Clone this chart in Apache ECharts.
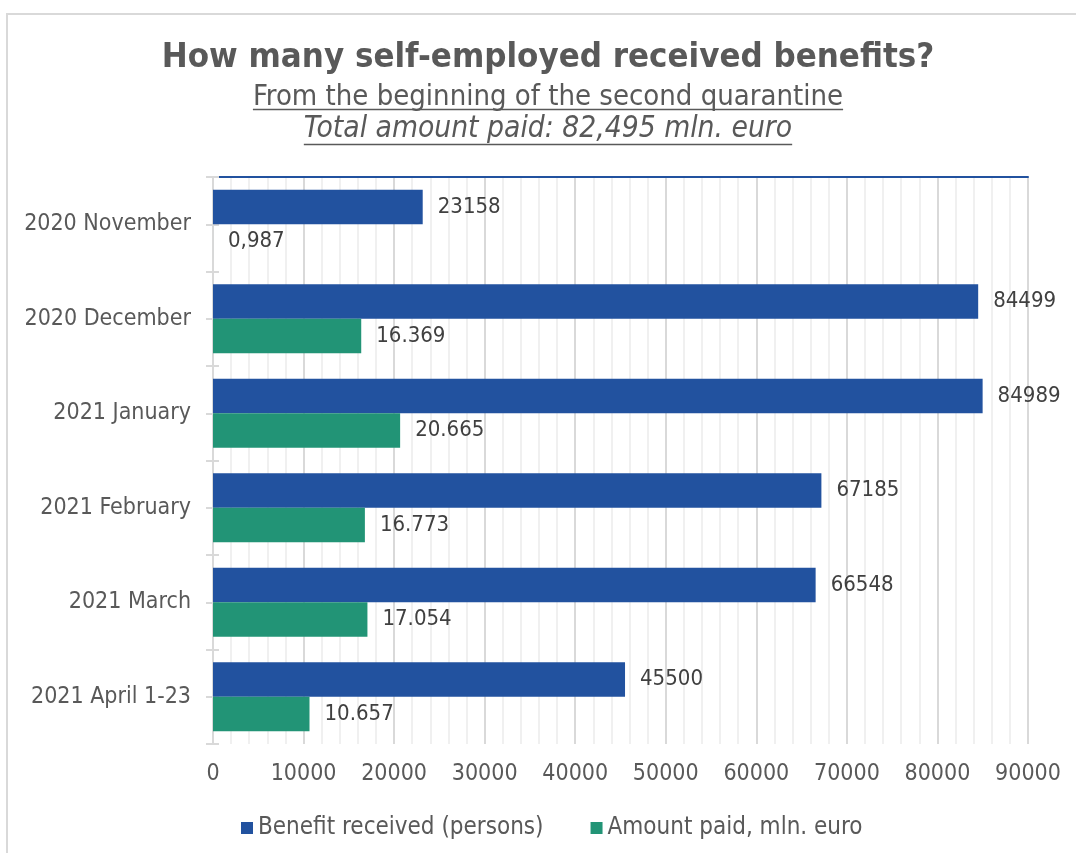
<!DOCTYPE html>
<html>
<head>
<meta charset="utf-8">
<script src="https://cdn.jsdelivr.net/npm/echarts@6/dist/echarts.min.js"></script>
<style>
  html, body { margin: 0; padding: 0; background: #fff; overflow: hidden; }
  #frame { position: absolute; left: 6px; top: 13px; width: 1200px; height: 1000px; border: 2px solid #d9d9d9; box-sizing: border-box; }
  #chart { position: absolute; left: 0; top: 0; width: 1076px; height: 853px; }
</style>
</head>
<body>
<div id="frame"></div>
<div id="chart"></div>
<script>
// ---- data ----
const categories = ['2020 November', '2020 December', '2021 January', '2021 February', '2021 March', '2021 April 1-23'];
const benefitReceived = [23158, 84499, 84989, 67185, 66548, 45500];
const amountPaid = [0.987, 16369, 20665, 16773, 17054, 10657];
const seriesNames = ['Benefit received (persons)', 'Amount paid, mln. euro'];
const titleText = 'How many self-employed received benefits?';
const subText1 = 'From the beginning of the second quarantine';
const subText2 = 'Total amount paid: 82,495 mln. euro';

const FONT = '"DejaVu Sans Condensed", "DejaVu Sans", sans-serif';
const BLUE = '#22529f';
const GREEN = '#229476';
const GREY = '#595959';
const CX = 548;

function fmtEU(v) {
  if (v < 1) return String(v).replace('.', ',');
  return String(Math.round(v)).replace(/\B(?=(\d{3})+(?!\d))/g, '.');
}

function measure(text, font) {
  const c = document.createElement('canvas').getContext('2d');
  c.font = font;
  return c.measureText(text).width;
}
const SUB1 = 29, SUB2 = 29.7;
const w1 = measure(subText1, SUB1 + 'px ' + FONT);
const w2 = measure(subText2, 'italic ' + SUB2 + 'px ' + FONT);

const chart = echarts.init(document.getElementById('chart'), null, { renderer: 'canvas' });
const gridPos = { left: 213, right: 48, top: 177, bottom: 109 };

const option = {
  backgroundColor: 'transparent',
  animation: false,
  textStyle: { fontFamily: FONT },
  title: [
    { text: titleText, left: CX, top: 41, textAlign: 'center', padding: 0,
      textStyle: { fontFamily: FONT, fontSize: 34.5, fontWeight: 'bold', color: GREY } },
    { text: subText1, left: CX, top: 83, textAlign: 'center', padding: 0,
      textStyle: { fontFamily: FONT, fontSize: SUB1, fontWeight: 'normal', color: GREY } },
    { text: subText2, left: CX, top: 114, textAlign: 'center', padding: 0,
      textStyle: { fontFamily: FONT, fontSize: SUB2, fontStyle: 'italic', fontWeight: 'normal', color: GREY } }
  ],
  graphic: [
    { type: 'line', shape: { x1: CX - w1 / 2, y1: 109.5, x2: CX + w1 / 2, y2: 109.5 }, style: { stroke: GREY, lineWidth: 1.5 } },
    { type: 'line', shape: { x1: CX - w2 / 2, y1: 144.5, x2: CX + w2 / 2, y2: 144.5 }, style: { stroke: GREY, lineWidth: 1.5 } }
  ],
  legend: {
    data: seriesNames,
    left: 236, top: 811,
    icon: 'rect', itemWidth: 12, itemHeight: 12, itemGap: 47,
    textStyle: { fontFamily: FONT, fontSize: 24, color: GREY }
  },
  grid: [
    Object.assign({}, gridPos),
    Object.assign({}, gridPos),
    Object.assign({}, gridPos)
  ],
  xAxis: [
    { type: 'value', gridIndex: 0, min: 0, max: 90000, interval: 10000,
      axisLine: { show: false }, axisTick: { show: false },
      axisLabel: { fontFamily: FONT, fontSize: 23, color: GREY, margin: 19, formatter: v => String(v) },
      splitLine: { show: true, lineStyle: { color: '#d9d9d9', width: 2 } },
      minorTick: { show: false, splitNumber: 5 },
      minorSplitLine: { show: true, lineStyle: { color: '#f0f0f0', width: 2 } } },
    { type: 'value', gridIndex: 1, position: 'top', min: 0, max: 1,
      axisLine: { show: true, onZero: false, lineStyle: { color: BLUE, width: 2 } },
      axisTick: { show: false }, axisLabel: { show: false }, splitLine: { show: false } },
    { type: 'value', gridIndex: 2, min: 0, max: 1, show: false }
  ],
  yAxis: [
    { type: 'category', gridIndex: 0, data: categories, inverse: true,
      axisLine: { show: true, lineStyle: { color: '#d9d9d9', width: 2 } },
      axisTick: { show: false },
      axisLabel: { fontFamily: FONT, fontSize: 23, color: GREY, margin: 22 } },
    { type: 'value', gridIndex: 1, min: 0, max: 6, interval: 0.5, position: 'left',
      axisLine: { show: false, onZero: false },
      axisTick: { show: true, length: 7, lineStyle: { color: '#d9d9d9', width: 2 } },
      axisLabel: { show: false }, splitLine: { show: false } },
    { type: 'value', gridIndex: 2, min: 0, max: 6, interval: 0.5, position: 'left',
      axisLine: { show: false, onZero: false },
      axisTick: { show: true, inside: true, length: 6, lineStyle: { color: '#d9d9d9', width: 2 } },
      axisLabel: { show: false }, splitLine: { show: false } }
  ],
  series: [
    { name: seriesNames[0], type: 'bar', xAxisIndex: 0, yAxisIndex: 0, data: benefitReceived,
      barGap: '0%', barCategoryGap: '27%',
      itemStyle: { color: BLUE },
      label: { show: true, position: 'right', distance: 15, fontFamily: FONT, fontSize: 22, color: '#404040',
        formatter: p => String(p.value) } },
    { name: seriesNames[1], type: 'bar', xAxisIndex: 0, yAxisIndex: 0, data: amountPaid,
      barGap: '0%', barCategoryGap: '27%',
      itemStyle: { color: GREEN },
      label: { show: true, position: 'right', distance: 15, fontFamily: FONT, fontSize: 22, color: '#404040',
        formatter: p => fmtEU(p.value) } }
  ]
};
chart.setOption(option);
</script>
</body>
</html>
